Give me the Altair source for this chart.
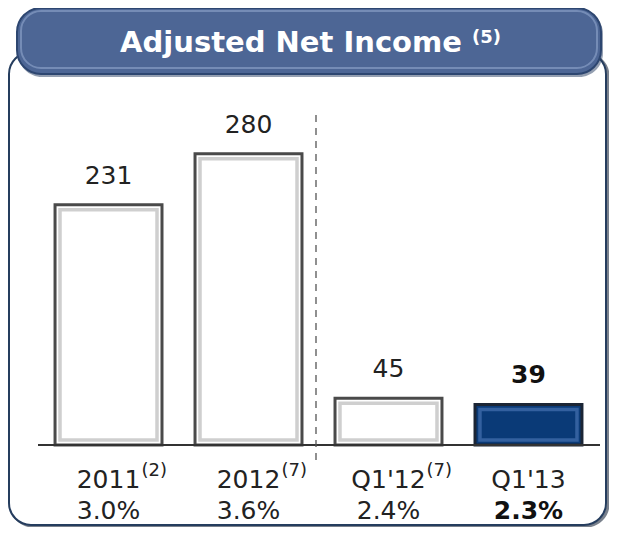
import altair as alt
import pandas as pd

# ---- data ----
categories = ["2011", "2012", "Q1'12", "Q1'13"]
notes = ["(2)", "(7)", "(7)", ""]
values = [231, 280, 45, 39]
margins = ["3.0%", "3.6%", "2.4%", "2.3%"]
kinds = ["base", "base", "base", "focus"]
title_text = "Adjusted Net Income"
title_note = "(5)"

df = pd.DataFrame({
    "cat": categories,
    "note": notes,
    "value": values,
    "margin": margins,
    "kind": kinds,
})
one = pd.DataFrame({"k": [0]})

FONT = "DejaVu Sans"
W, H = 601, 519
INSET = 5 / 1.04  # bevel inset, in value units

xscale = alt.Scale(domain=categories, paddingInner=0.236, paddingOuter=0.2646,
                   align=0.635)
yscale = alt.Scale(domain=[-78.8, 420.2], nice=False, zero=False)
X = alt.X("cat:N", scale=xscale, axis=None)
Y = alt.Y("value:Q", scale=yscale, axis=None)

# ---- decorations: frame and banner ----
frame_shadow = alt.Chart(one).mark_rect(
    cornerRadius=22, fill="#ffffff", fillOpacity=0, stroke="#0e1c30",
    strokeWidth=3, opacity=0.55
).encode(x=alt.value(3), x2=alt.value(600), y=alt.value(46), y2=alt.value(518))

frame = alt.Chart(one).mark_rect(
    cornerRadius=22, fill="#ffffff", stroke="#253d5e", strokeWidth=2
).encode(x=alt.value(1), x2=alt.value(598), y=alt.value(44), y2=alt.value(517))

banner_shadow = alt.Chart(one).mark_rect(
    cornerRadius=24, fill="#2a3f63", opacity=0.5
).encode(x=alt.value(10), x2=alt.value(595), y=alt.value(2), y2=alt.value(69))

banner = alt.Chart(one).mark_rect(
    cornerRadius=24, fill="#4d6695", stroke="#2d4670", strokeWidth=2,
).encode(x=alt.value(9), x2=alt.value(593), y=alt.value(0), y2=alt.value(66))

banner_hi = alt.Chart(one).mark_rect(
    cornerRadius=20, fill="#ffffff", fillOpacity=0, stroke="#7f96bf",
    strokeWidth=2, opacity=0.8
).encode(x=alt.value(13), x2=alt.value(589), y=alt.value(3), y2=alt.value(60))

title = alt.Chart(pd.DataFrame({"t": [title_text]})).mark_text(
    font=FONT, fontSize=29, fontWeight="bold", color="white",
    align="center", baseline="middle"
).encode(x=alt.value(283), y=alt.value(35), text="t:N")

title_sup = alt.Chart(pd.DataFrame({"t": [title_note]})).mark_text(
    font=FONT, fontSize=18, fontWeight="bold", color="white",
    align="left", baseline="middle"
).encode(x=alt.value(464), y=alt.value(30), text="t:N")

# ---- bars ----
styles = {
    "base": dict(fill="#ffffff", stroke="#4a4a4a", bevel="#cfcfcf"),
    "focus": dict(fill="#0a3a77", stroke="#1b2535", bevel="#33609f"),
}
bar_layers = []
for kd, st in styles.items():
    sub = alt.Chart(df).transform_filter(
        alt.datum.kind == kd
    ).transform_calculate(
        zero="0", top=f"datum.value - {INSET}", bot=f"{INSET}"
    )
    bar_layers.append(
        sub.mark_bar(fill=st["fill"], stroke=st["stroke"], strokeWidth=3).encode(
            x=X, y=Y, y2="zero:Q")
    )
    bar_layers.append(
        sub.mark_bar(size=97, fillOpacity=0, stroke=st["bevel"], strokeWidth=3.5).encode(
            x=X, y=alt.Y("top:Q", scale=yscale, axis=None), y2="bot:Q")
    )

# ---- baseline and divider ----
baseline = alt.Chart(one).transform_calculate(z="0").mark_rule(
    color="#333333", strokeWidth=2
).encode(
    y=alt.Y("z:Q", scale=yscale, axis=None), x=alt.value(30), x2=alt.value(592)
)

divider = alt.Chart(one).mark_rule(
    color="#555555", strokeWidth=1.3, strokeDash=[7, 6]
).encode(x=alt.value(308), y=alt.value(107), y2=alt.value(452))

# ---- labels ----
val_base = alt.Chart(df).transform_filter("datum.kind == 'base'").mark_text(
    font=FONT, fontSize=25, color="#222222", baseline="alphabetic", dy=-21
).encode(x=X, y=Y, text="value:Q")

val_focus = alt.Chart(df).transform_filter("datum.kind == 'focus'").mark_text(
    font=FONT, fontSize=25, fontWeight="bold", color="#111111",
    baseline="alphabetic", dy=-21
).encode(x=X, y=Y, text="value:Q")

cat_lbl = alt.Chart(df).mark_text(
    font=FONT, fontSize=25, color="#222222", baseline="alphabetic"
).encode(x=X, y=alt.value(480), text="cat:N")

sup_dx = {"2011": 33, "2012": 33, "Q1'12": 38}
sup_layers = []
for c, n in zip(categories, notes):
    if not n:
        continue
    sup_layers.append(
        alt.Chart(df).transform_filter(alt.datum.cat == c).mark_text(
            font=FONT, fontSize=18, color="#222222", align="left",
            baseline="alphabetic", dx=sup_dx[c]
        ).encode(x=X, y=alt.value(468), text="note:N")
    )

pct_base = alt.Chart(df).transform_filter("datum.kind == 'base'").mark_text(
    font=FONT, fontSize=25, color="#222222", baseline="alphabetic"
).encode(x=X, y=alt.value(511), text="margin:N")

pct_focus = alt.Chart(df).transform_filter("datum.kind == 'focus'").mark_text(
    font=FONT, fontSize=25, fontWeight="bold", color="#111111", baseline="alphabetic"
).encode(x=X, y=alt.value(511), text="margin:N")

chart = alt.layer(
    frame_shadow, frame, banner_shadow, banner, banner_hi, title, title_sup,
    *bar_layers, baseline, divider,
    val_base, val_focus, cat_lbl, *sup_layers, pct_base, pct_focus,
).properties(
    width=W, height=H, padding=0,
    autosize=alt.AutoSizeParams(type="none")
).configure_view(stroke=None)

chart.save("out.html", embed_options={"renderer": "svg", "actions": False})
